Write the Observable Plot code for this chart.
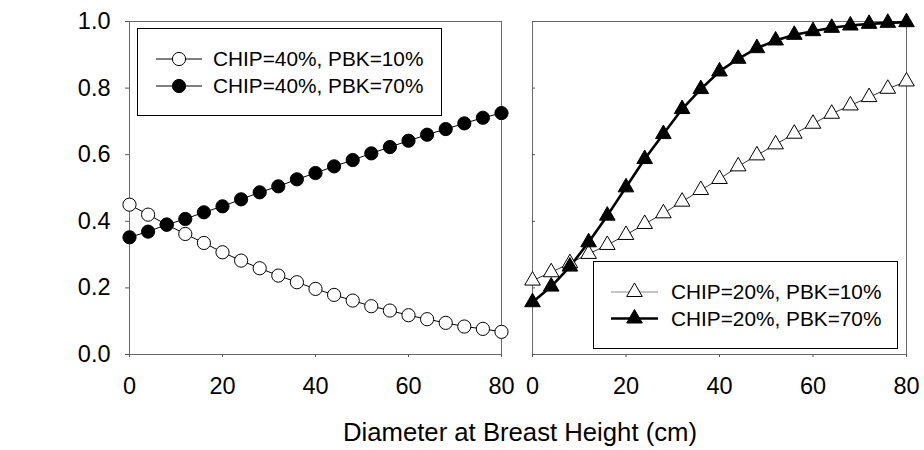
<!DOCTYPE html>
<html>
<head>
<meta charset="utf-8">
<script src="https://cdn.jsdelivr.net/npm/d3@7"></script>
<script src="https://cdn.jsdelivr.net/npm/@observablehq/plot@0.6"></script>
<style>
  html, body { margin: 0; padding: 0; background: white; }
  #wrap { position: relative; width: 924px; height: 450px; font-family: "Liberation Sans", Arial, sans-serif; overflow: hidden; }
  #wrap > svg { position: absolute; top: 0; }
</style>
</head>
<body>
<div id="wrap"></div>
<script>
// ---- data ----
const dbh = [0, 4, 8, 12, 16, 20, 24, 28, 32, 36, 40, 44, 48, 52, 56, 60, 64, 68, 72, 76, 80];
const chip40pbk10 = [0.450, 0.420, 0.390, 0.362, 0.335, 0.307, 0.282, 0.259, 0.237, 0.217, 0.197, 0.179, 0.162, 0.145, 0.132, 0.118, 0.106, 0.095, 0.084, 0.077, 0.068];
const chip40pbk70 = [0.352, 0.369, 0.390, 0.407, 0.427, 0.445, 0.466, 0.487, 0.505, 0.526, 0.545, 0.565, 0.584, 0.604, 0.623, 0.642, 0.660, 0.677, 0.694, 0.711, 0.725];
const chip20pbk10 = [0.222, 0.247, 0.274, 0.302, 0.329, 0.359, 0.392, 0.424, 0.459, 0.494, 0.527, 0.565, 0.598, 0.631, 0.663, 0.693, 0.723, 0.748, 0.773, 0.798, 0.820];
const chip20pbk70 = [0.157, 0.204, 0.264, 0.337, 0.417, 0.502, 0.587, 0.662, 0.737, 0.797, 0.850, 0.888, 0.920, 0.943, 0.960, 0.971, 0.981, 0.988, 0.993, 0.996, 0.998];
const xTicks = [0, 20, 40, 60, 80];
const yTicks = [0, 0.2, 0.4, 0.6, 0.8, 1.0];
const leftLabels = ["CHIP=40%, PBK=10%", "CHIP=40%, PBK=70%"];
const rightLabels = ["CHIP=20%, PBK=10%", "CHIP=20%, PBK=70%"];
const xTitle = "Diameter at Breast Height (cm)";

const FONT = "'Liberation Sans', Arial, sans-serif";
const rows = (ys) => dbh.map((x, i) => ({x, y: ys[i]}));
const wrap = document.getElementById("wrap");

const common = {
  height: 450,
  marginTop: 21,
  marginBottom: 96,
  x: {domain: [0, 80]},
  y: {domain: [0, 1]},
  style: {fontFamily: FONT, background: "transparent", overflow: "visible"}
};

// ---- left panel ----
const left = Plot.plot({
  ...common,
  width: 520,
  marginLeft: 129,
  marginRight: 19,
  marks: [
    Plot.frame({stroke: "#6a6a6a"}),
    Plot.axisY({ticks: yTicks, tickFormat: d3.format(".1f"), tickSize: 4, tickPadding: 15, fontSize: 23.5, stroke: "#555", fill: "black", label: null}),
    Plot.axisX({ticks: xTicks, tickSize: 3, tickPadding: 20, fontSize: 23.5, stroke: "#555", fill: "black", label: null}),
    Plot.line(rows(chip40pbk10), {x: "x", y: "y", stroke: "black", strokeWidth: 1}),
    Plot.line(rows(chip40pbk70), {x: "x", y: "y", stroke: "black", strokeWidth: 1}),
    Plot.dot(rows(chip40pbk10), {x: "x", y: "y", r: 6.6, fill: "white", stroke: "black", strokeWidth: 1}),
    Plot.dot(rows(chip40pbk70), {x: "x", y: "y", r: 6.6, fill: "black", stroke: "black", strokeWidth: 1})
  ]
});
left.style.left = "0px";
wrap.appendChild(left);

// ---- right panel ----
const right = Plot.plot({
  ...common,
  width: 404,
  marginLeft: 12,
  marginRight: 18,
  marks: [
    Plot.frame({stroke: "#6a6a6a"}),
    Plot.axisY({ticks: yTicks, tickFormat: () => "", tickSize: -3, stroke: "#555", label: null}),
    Plot.axisX({ticks: xTicks, tickSize: 3, tickPadding: 20, fontSize: 23.5, stroke: "#555", fill: "black", label: null}),
    Plot.line(rows(chip20pbk10), {x: "x", y: "y", stroke: "#333", strokeWidth: 1}),
    Plot.line(rows(chip20pbk70), {x: "x", y: "y", stroke: "black", strokeWidth: 2.6}),
    Plot.dot(rows(chip20pbk10), {x: "x", y: "y", symbol: "triangle", r: 5.8, fill: "white", stroke: "black", strokeWidth: 1}),
    Plot.dot(rows(chip20pbk70), {x: "x", y: "y", symbol: "triangle", r: 5.8, fill: "black", stroke: "black", strokeWidth: 1})
  ]
});
right.style.left = "520px";
wrap.appendChild(right);

// ---- legends and shared x title (overlay) ----
const ov = d3.select(wrap).append("svg")
  .attr("width", 924).attr("height", 450)
  .style("left", "0px").style("pointer-events", "none")
  .attr("font-family", FONT);

function legend(box, lineX, markX, textX, rowYs, labels, items) {
  ov.append("rect").attr("x", box[0]).attr("y", box[1]).attr("width", box[2] - box[0]).attr("height", box[3] - box[1])
    .attr("fill", "white").attr("stroke", "black").attr("stroke-width", 1);
  labels.forEach((lab, i) => {
    const it = items[i], y = rowYs[i];
    ov.append("line").attr("x1", lineX[0]).attr("x2", lineX[1]).attr("y1", y).attr("y2", y)
      .attr("stroke", it.line).attr("stroke-width", it.lw);
    ov.append("path").attr("d", d3.symbol(it.symbol, it.size)())
      .attr("transform", `translate(${markX},${y})`)
      .attr("fill", it.fill).attr("stroke", "black").attr("stroke-width", 1);
    ov.append("text").attr("x", textX).attr("y", y).attr("dy", "0.36em")
      .attr("font-size", 20.8).attr("fill", "black").text(lab);
  });
}

legend([137.5, 28.5, 441.5, 115.5], [156, 202], 179, 213, [59, 86], leftLabels, [
  {symbol: d3.symbolCircle, size: Math.PI * 6.6 * 6.6, fill: "white", line: "black", lw: 1},
  {symbol: d3.symbolCircle, size: Math.PI * 6.6 * 6.6, fill: "black", line: "black", lw: 1}
]);
legend([593.5, 261.5, 897.5, 348.5], [611, 658], 634.5, 671, [292, 318.5], rightLabels, [
  {symbol: d3.symbolTriangle, size: Math.PI * 5.8 * 5.8, fill: "white", line: "#888", lw: 1},
  {symbol: d3.symbolTriangle, size: Math.PI * 5.8 * 5.8, fill: "black", line: "black", lw: 2.6}
]);

ov.append("text").attr("x", 520).attr("y", 440.5).attr("text-anchor", "middle")
  .attr("font-size", 25.7).attr("fill", "black").text(xTitle);
</script>
</body>
</html>
